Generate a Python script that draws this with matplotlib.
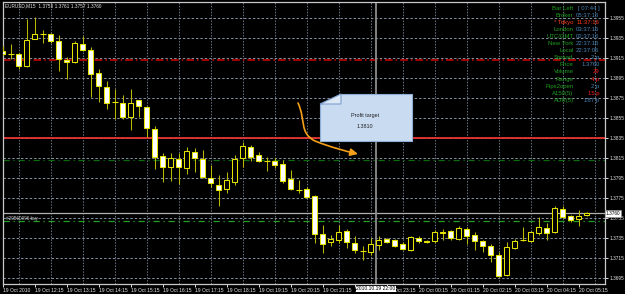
import numpy as np
import pandas as pd
import matplotlib
matplotlib.use('Agg')
import matplotlib.pyplot as plt
import matplotlib.transforms as mtransforms
from matplotlib import font_manager
from matplotlib.path import Path
from matplotlib.patches import Polygon, FancyArrowPatch

W, H = 625, 294

# EURUSD M15 bars from 19 Oct 2010 11:15
start_time = '2010-10-19 11:15'
opens = [1.3922, 1.3919, 1.3919, 1.3907, 1.3934, 1.3939, 1.3939, 1.3932, 1.3913, 1.3911,
         1.3929, 1.3923, 1.3900, 1.3886, 1.3871, 1.3870, 1.3856, 1.3873, 1.3866, 1.3844,
         1.3817, 1.3806, 1.3814, 1.3805, 1.3821, 1.3814, 1.3795, 1.3788, 1.3784, 1.3791,
         1.3815, 1.3826, 1.3818, 1.3812, 1.3812, 1.3809, 1.3794, 1.3783, 1.3784, 1.3777,
         1.3739, 1.3731, 1.3733, 1.3742, 1.3730, 1.3722, 1.3721, 1.3728, 1.3734, 1.3733,
         1.3729, 1.3723, 1.3735, 1.3732, 1.3732, 1.3741, 1.3742, 1.3734, 1.3744, 1.3738,
         1.3732, 1.3727, 1.3718, 1.3698, 1.3725, 1.3733, 1.3732, 1.3740, 1.3745, 1.3741,
         1.3764, 1.3757, 1.3754, 1.3758]
highs = [1.3927, 1.3929, 1.3920, 1.3954, 1.3956, 1.3943, 1.3940, 1.3938, 1.3916, 1.3932,
         1.3937, 1.3926, 1.3904, 1.3892, 1.3884, 1.3878, 1.3884, 1.3873, 1.3867, 1.3847,
         1.3820, 1.3820, 1.3820, 1.3826, 1.3825, 1.3823, 1.3808, 1.3798, 1.3801, 1.3818,
         1.3831, 1.3828, 1.3821, 1.3816, 1.3815, 1.3813, 1.3803, 1.3793, 1.3786, 1.3778,
         1.3748, 1.3738, 1.3748, 1.3744, 1.3737, 1.3727, 1.3735, 1.3737, 1.3735, 1.3734,
         1.3731, 1.3737, 1.3737, 1.3733, 1.3743, 1.3744, 1.3743, 1.3747, 1.3746, 1.3741,
         1.3733, 1.3729, 1.3721, 1.3731, 1.3734, 1.3746, 1.3742, 1.3756, 1.3750, 1.3767,
         1.3767, 1.3758, 1.3763, 1.3761]
lows = [1.3918, 1.3914, 1.3904, 1.3906, 1.3934, 1.3930, 1.3930, 1.3902, 1.3894, 1.3910,
        1.3922, 1.3876, 1.3871, 1.3864, 1.3854, 1.3854, 1.3843, 1.3856, 1.3836, 1.3804,
        1.3791, 1.3792, 1.3789, 1.3799, 1.3801, 1.3795, 1.3786, 1.3767, 1.3780, 1.3788,
        1.3806, 1.3812, 1.3811, 1.3802, 1.3805, 1.3790, 1.3783, 1.3780, 1.3775, 1.3730,
        1.3720, 1.3727, 1.3730, 1.3725, 1.3720, 1.3713, 1.3718, 1.3723, 1.3730, 1.3726,
        1.3723, 1.3722, 1.3730, 1.3730, 1.3730, 1.3733, 1.3733, 1.3733, 1.3729, 1.3723,
        1.3721, 1.3711, 1.3696, 1.3697, 1.3724, 1.3732, 1.3731, 1.3738, 1.3733, 1.3740,
        1.3755, 1.3751, 1.3747, 1.3757]
closes = [1.3919, 1.3919, 1.3907, 1.3933, 1.3939, 1.3939, 1.3932, 1.3914, 1.3911, 1.3930,
          1.3923, 1.3899, 1.3887, 1.3870, 1.3871, 1.3856, 1.3870, 1.3867, 1.3845, 1.3816,
          1.3806, 1.3815, 1.3806, 1.3822, 1.3815, 1.3796, 1.3790, 1.3783, 1.3793, 1.3814,
          1.3827, 1.3816, 1.3812, 1.3812, 1.3808, 1.3792, 1.3784, 1.3783, 1.3776, 1.3739,
          1.3729, 1.3734, 1.3741, 1.3731, 1.3723, 1.3722, 1.3729, 1.3733, 1.3731, 1.3727,
          1.3724, 1.3736, 1.3732, 1.3731, 1.3741, 1.3740, 1.3735, 1.3745, 1.3737, 1.3732,
          1.3727, 1.3718, 1.3697, 1.3726, 1.3732, 1.3733, 1.3741, 1.3746, 1.3740, 1.3765,
          1.3756, 1.3753, 1.3757, 1.3760]

price_ticks = [1.3955, 1.3935, 1.3915, 1.3895, 1.3875, 1.3855, 1.3835,
               1.3815, 1.3795, 1.3775, 1.3755, 1.3735, 1.3715, 1.3695]

stop_line = 1.3913
level_line = 1.3835
target_line = 1.3813
order_line = 1.3752
order_label = '#20560996 buy'
bid = 1.3760
marker_bar = 46.6
marker_label = '2010.10.19 22:00'
title = 'EURUSD,M15  1.3758 1.3761 1.3757 1.3760'
note_lines = ['Profit target', '1.3810']

info_labels = ['Bar Left', 'Broker', '* Tokyo', 'London', 'UTC/GMT', 'New York', 'Local',
               'Spread', 'Price', 'Volume', 'Range', 'Pips2open', 'A150(5)', 'ADR(5)']
info_values = ['[ 07:44 ]', '05:37:16', '11:37:16', '03:37:16', '02:37:16', '22:37:16', '22:37:05',
               '2 p', '1.3760', '29', '4 p', '2 p', '15 p', '187 p']
info_value_red = [False, False, True, False, False, False, False,
                  False, False, True, True, False, True, False]

GREEN = '#1f9e1f'
BLUE = '#4682b4'
RED = '#ff2020'
WICK = '#b8b800'
EDGE = '#e4e400'

names = {f.name for f in font_manager.fontManager.ttflist}
if 'Liberation Sans Narrow' in names:
    font, fs = 'Liberation Sans Narrow', 1 / 0.82
else:
    font, fs = 'Liberation Sans', 1.0
plt.rcParams['font.family'] = font

# pixel coords (origin top-left) -> display
pix = mtransforms.Affine2D().scale(1, -1).translate(0, H)

fig = plt.figure(figsize=(W / 100, H / 100), dpi=100, facecolor='black')
ax = fig.add_axes([2.5 / W, (H - 283.5) / H, 602 / W, 282 / H], facecolor='black')

k = 0.0020 / 20.05
ax.set_xlim(-0.025, 75.225)
ax.set_ylim(1.3955 - (283.5 - 17.7) * k, 1.3955 + (17.7 - 1.5) * k)

o = np.array(opens)
h = np.array(highs)
l = np.array(lows)
c = np.array(closes)
x = np.arange(len(o))
bear = c < o
bull = c > o
doji = c == o

ax.vlines(x, l, h, color=WICK, lw=0.75, zorder=3)
ax.bar(x[bear], (o - c)[bear], bottom=c[bear], width=0.68, color='white',
       edgecolor=EDGE, lw=0.75, zorder=4)
ax.bar(x[bull], (c - o)[bull], bottom=o[bull], width=0.68, color='black',
       edgecolor=EDGE, lw=0.75, zorder=4)
ax.hlines(o[doji], x[doji] - 0.36, x[doji] + 0.36, color=EDGE, lw=0.8, zorder=4)

# chart objects
ax.axhline(stop_line, color='#d40000', lw=1.1, ls=(0, (5, 2, 1, 2)), zorder=2)
ax.axhline(level_line, color='#e83434', lw=1.3, zorder=2)
ax.axhline(target_line, color='#0b6a0b', lw=0.9, ls=(0, (5, 3, 1, 3)), zorder=2)
ax.axhline(order_line, color='#22a022', lw=0.9, ls=(0, (5, 3, 1, 3)), zorder=2)
ax.axhline(bid, color='#b0b0b0', lw=0.9, zorder=2)
ax.axvline(marker_bar, color='#8c8c8c', lw=1.3, zorder=2)

# axes / grid
times = pd.date_range(start_time, periods=len(o), freq='15min')
major = list(range(0, len(o), 4))
xlabels = ['19 Oct 2010' if i == 0 else times[i].strftime('%d Oct %H:%M') for i in major]
ax.set_xticks(major)
ax.set_xticklabels(xlabels)
ax.set_xticks(range(0, len(o) + 2, 2), minor=True)
ax.yaxis.tick_right()
ax.set_yticks(price_ticks)
ax.set_yticklabels(['%.4f' % p for p in price_ticks])
ax.grid(True, which='major', axis='y', color='#8492a2', lw=0.7, ls=(0, (2.5, 2)))
ax.grid(True, which='minor', axis='x', color='#6a7684', lw=0.7, ls=(0, (1.5, 1.5)))
ax.set_axisbelow(True)
ax.tick_params(axis='y', direction='out', length=2.5, width=0.7, color='#e0e0e0',
               pad=1.5, labelsize=3.4 * fs, labelcolor='#e8e8e8')
ax.tick_params(axis='x', which='major', direction='out', length=2.5, width=0.7,
               color='#e0e0e0', pad=0.8, labelsize=3.6 * fs, labelcolor='#e8e8e8')
ax.tick_params(axis='x', which='minor', length=0)
for lab in ax.get_xticklabels():
    lab.set_horizontalalignment('left')
for s in ax.spines.values():
    s.set_color('#c8c8c8')
    s.set_linewidth(0.9)

# title and order label
fig.text(5, 5.8, title, transform=pix, color='#e8e8e8', fontsize=3.4 * fs, va='center')
fig.text(6, 218.6, order_label, transform=pix, color='#c8c8c8', fontsize=3.3 * fs, va='center')

# info panel
for j, (lab, val, red) in enumerate(zip(info_labels, info_values, info_value_red)):
    y = 8.7 + 7.03 * j
    lc = '#ff3a1a' if lab.startswith('*') else GREEN
    vc = '#ff3a1a' if lab.startswith('*') else (RED if red else BLUE)
    fig.text(573.5, y, lab, transform=pix, color=lc, fontsize=4.3 * fs, ha='right', va='center')
    fig.text(599.5, y, val, transform=pix, color=vc, fontsize=4.3 * fs, ha='right', va='center')

# note box with folded corner
body = Polygon([(341, 94), (412, 94), (412, 141), (320, 141), (320, 104)], closed=True,
               transform=pix, facecolor='#c8dbf1', edgecolor='#8eaed6', lw=0.8, zorder=6)
fold = Polygon([(320, 104), (341, 94), (341, 104)], closed=True, transform=pix,
               facecolor='#dce8f6', edgecolor='#7f9fcc', lw=0.8, zorder=7)
ax.add_patch(body)
ax.add_patch(fold)
fig.text(365, 115, note_lines[0], transform=pix, color='#202020', fontsize=3.9 * fs,
         ha='center', va='center', zorder=8)
fig.text(365, 126, note_lines[1], transform=pix, color='#202020', fontsize=3.9 * fs,
         ha='center', va='center', zorder=8)

arrow_path = Path([(298, 103), (306, 120), (299, 133), (315, 141),
                   (330, 147), (345, 151), (358, 154)],
                  [Path.MOVETO, Path.CURVE4, Path.CURVE4, Path.CURVE4,
                   Path.CURVE4, Path.CURVE4, Path.CURVE4])
arrow = FancyArrowPatch(path=arrow_path, transform=pix, arrowstyle='-|>,head_length=4.5,head_width=2.2',
                        color='#f5a01a', lw=1.2, zorder=7)
ax.add_patch(arrow)

# price and time markers on the scales
fig.text(606, 213.2, '%.4f' % bid, transform=pix, color='black', fontsize=3.4 * fs,
         ha='left', va='center', bbox=dict(facecolor='white', edgecolor='#909090', pad=0.6, lw=0.5))
fig.text(376, 289, marker_label, transform=pix, color='black', fontsize=3.6 * fs,
         ha='center', va='center', bbox=dict(facecolor='white', edgecolor='none', pad=0.6))

fig.savefig('out.png', dpi=100, facecolor='black')
